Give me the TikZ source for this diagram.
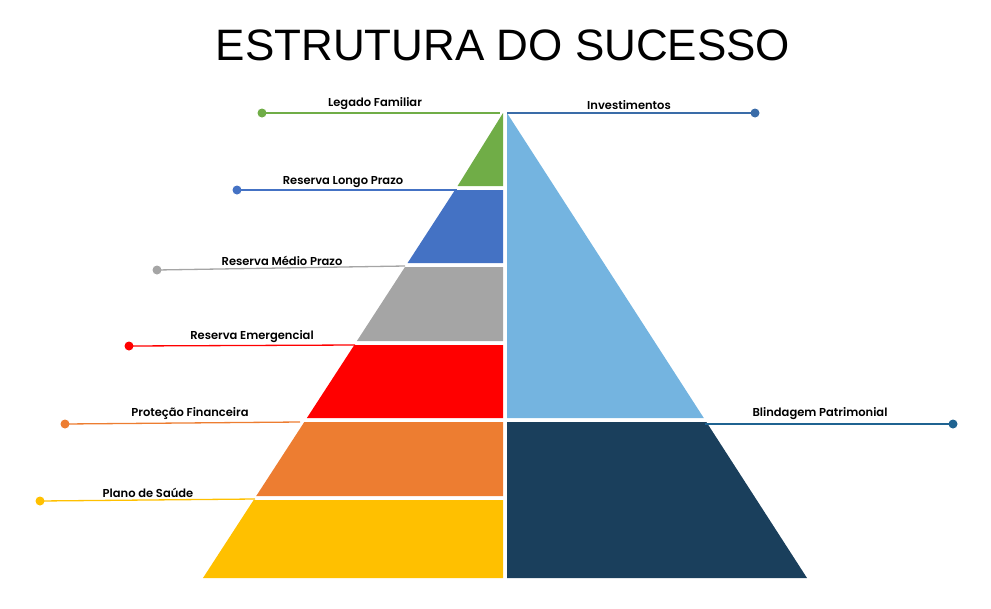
\documentclass[tikz,border=0pt]{standalone}
\usepackage{fontspec}
\setmainfont{Liberation Sans}
\newfontfamily\pop{Poppins}[UprightFont=* SemiBold]
\begin{document}
\begin{tikzpicture}[x=1pt,y=-1pt,
  lbl/.style={font=\pop\fontsize{11.5}{13}\selectfont,anchor=base,inner sep=0},
  lead/.style={line width=1.3pt},
  dotm/.style={circle,inner sep=0,minimum size=9pt}]
\definecolor{cg}{HTML}{70AD47}\definecolor{cb}{HTML}{4472C4}
\definecolor{cgr}{HTML}{A5A5A5}\definecolor{cr}{HTML}{FF0000}
\definecolor{co}{HTML}{ED7D31}\definecolor{cy}{HTML}{FFC000}
\definecolor{clb}{HTML}{74B4E0}\definecolor{cdb}{HTML}{1A3F5C}
\definecolor{ci}{HTML}{3A6CA8}\definecolor{cbl}{HTML}{1F6391}
\useasboundingbox (0,0) rectangle (991,608);
\node[font=\fontsize{44}{50}\selectfont] (t) at (503,45) {ESTRUTURA DO SUCESSO};
\def\L#1{505-0.6495*(#1-113)}
\def\R#1{507+0.6452*(#1-113)}
\fill[cg] (503,113) -- ({\L{186}},186) -- (503,186) -- cycle;
\foreach \a/\b/\c in {190/263/cb,267/341/cgr,345/418/cr,422/496/co,500/578/cy}
  \fill[\c] ({\L{\a}},\a) -- ({\L{\b}},\b) -- (503,\b) -- (503,\a) -- cycle;
\fill[clb] (507,113) -- ({\R{418}},418) -- (507,418) -- cycle;
\fill[cdb] (507,422) -- ({\R{422}},422) -- ({\R{578}},578) -- (507,578) -- cycle;
% left leaders
\foreach \n/\dx/\y/\ex/\ey/\c/\t/\lx/\ly in {
 a/262/113/500/113/cg/{Legado Familiar}/375/106,
 b/237/190/457/190/cb/{Reserva Longo Prazo}/343/184,
 c/157/270/405/266/cgr/{Reserva Médio Prazo}/282/265,
 d/129/346/355/345/cr/{Reserva Emergencial}/252/339,
 e/65/424/300/422/co/{Proteção Financeira}/190/416,
 f/40/501/255/499/cy/{Plano de Saúde}/148/497}{
 \node[dotm,fill=\c] (d\n) at (\dx,\y) {};
 \coordinate (e\n) at (\ex,\ey);
 \draw[lead,\c] (d\n.center) -- (e\n);
 \node[lbl] (l\n) at (\lx,\ly) {\t};
}
\node[dotm,fill=ci] (dg) at (755,113) {};
\coordinate (eg) at (507,113);
\draw[lead,ci] (eg) -- (dg.center);
\node[lbl] (lg) at (629,109) {Investimentos};
\node[dotm,fill=cbl] (dh) at (953,424) {};
\coordinate (eh) at (705,424);
\draw[lead,cbl] (eh) -- (dh.center);
\node[lbl] (lh) at (820,416) {Blindagem Patrimonial};
\end{tikzpicture}
\end{document}
